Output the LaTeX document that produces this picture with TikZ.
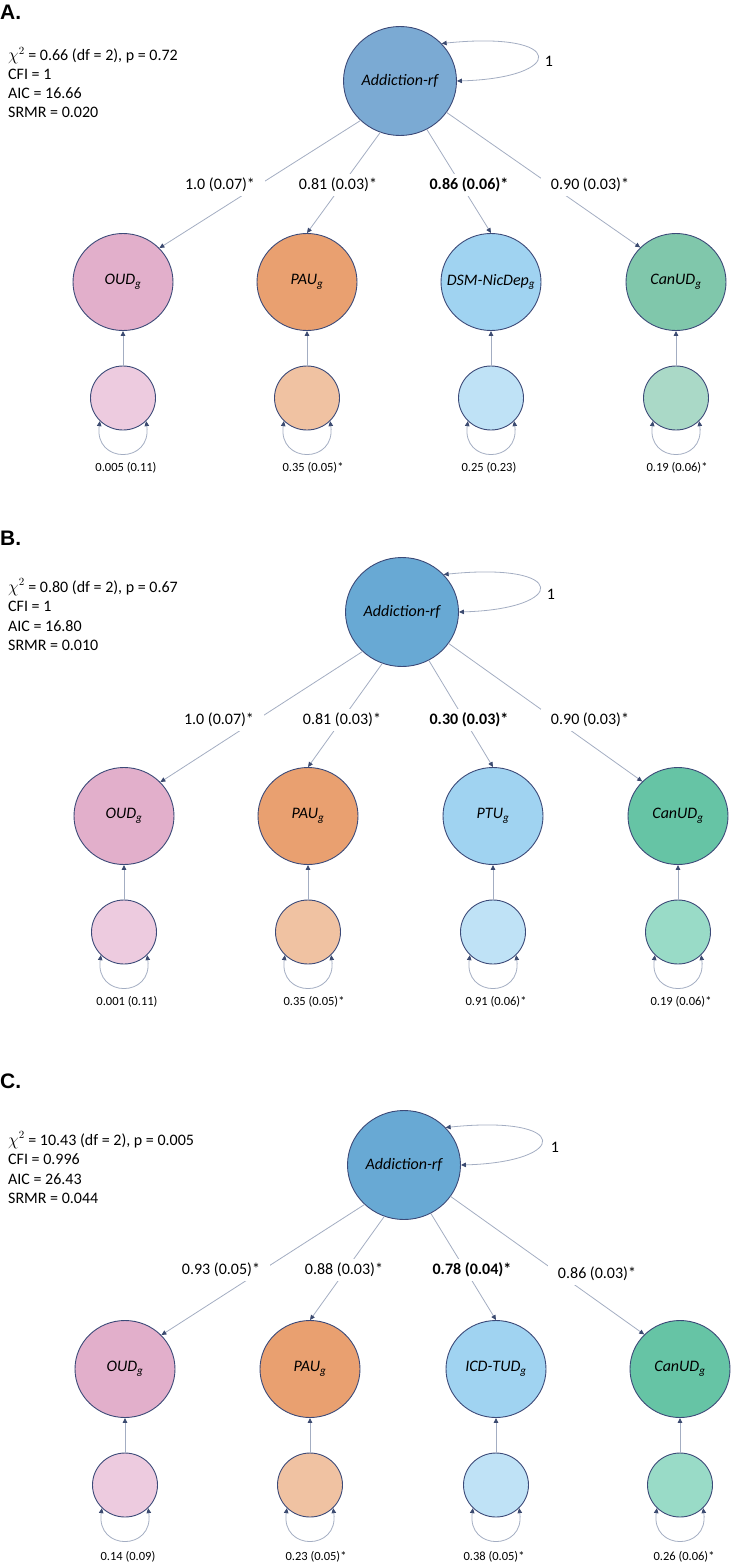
\documentclass[tikz,border=0pt]{standalone}
\usepackage{fontspec}
\setmainfont{Carlito}
\newfontfamily\labfont{Liberation Sans}
\usetikzlibrary{shapes.geometric,arrows.meta}
\newcommand\zb[1]{\makebox[0pt][c]{#1}}
\definecolor{edgec}{HTML}{A3ADC2}
\definecolor{tipc}{HTML}{3B4A70}
\definecolor{bordc}{HTML}{3C4A78}
\definecolor{addA}{HTML}{7BAAD3}
\definecolor{addB}{HTML}{68A9D4}
\definecolor{oudc}{HTML}{E2AFCB}
\definecolor{oudr}{HTML}{EDCBDF}
\definecolor{pauc}{HTML}{E9A070}
\definecolor{paur}{HTML}{F0C2A2}
\definecolor{nicc}{HTML}{A0D3F1}
\definecolor{nicr}{HTML}{BFE2F6}
\definecolor{canA}{HTML}{80C7AB}
\definecolor{canAr}{HTML}{AAD9C7}
\definecolor{canB}{HTML}{66C4A5}
\definecolor{canBr}{HTML}{99DBC7}
\tikzset{
  lat/.style={ellipse,draw=bordc,line width=0.9pt,inner sep=0pt,minimum width=113pt,minimum height=109pt,font=\fontsize{16}{19}\selectfont\itshape},
  obs/.style={ellipse,draw=bordc,line width=0.9pt,inner sep=0pt,minimum width=100pt,minimum height=97pt,font=\fontsize{16}{19}\selectfont\itshape},
  resid/.style={ellipse,draw=bordc,line width=0.9pt,inner sep=0pt,minimum width=65pt,minimum height=64pt},
  conn/.style={draw=edgec,line width=0.8pt,-{Triangle[length=5pt,width=4.5pt,color=tipc]}},
  dconn/.style={draw=edgec,line width=0.8pt,{Triangle[length=5pt,width=4.5pt,color=tipc]}-{Triangle[length=5pt,width=4.5pt,color=tipc]}},
  elab/.style={fill=white,inner xsep=10pt,inner ysep=4pt,font=\fontsize{16}{19}\selectfont},
  rlab/.style={inner sep=1pt,font=\fontsize{12.5}{15}\selectfont},
  stat/.style={anchor=west,inner sep=0pt,text height=11pt,text depth=3pt,font=\fontsize{16}{19}\selectfont},
  onelab/.style={inner sep=1pt,font=\fontsize{16}{19}\selectfont},
  plab/.style={anchor=west,inner sep=0pt,font=\labfont\bfseries\fontsize{21}{24}\selectfont},
}
\begin{document}
\begin{tikzpicture}[x=1pt,y=-1pt]
\useasboundingbox (0,0) rectangle (732,1563);

% ================= Panel A =================
\node[plab] (aLab) at (0,12) {A.};
\node[stat] (aS1) at (8,57) {$\chi^2$ = 0.66 (df = 2), p = 0.72};
\node[stat] (aS2) at (8,76) {CFI = 1};
\node[stat] (aS3) at (8,95) {AIC = 16.66};
\node[stat] (aS4) at (8,113) {SRMR = 0.020};

\node[lat,fill=addA] (aAdd) at (400,81) {\zb{Addiction-rf}};
\node[obs,fill=oudc] (aOUD) at (123,282) {\zb{OUD\textsubscript{g}}};
\node[obs,fill=pauc] (aPAU) at (307,282) {\zb{PAU\textsubscript{g}}};
\node[obs,fill=nicc] (aMID) at (491,282) {\zb{DSM-NicDep\textsubscript{g}}};
\node[obs,fill=canA] (aCAN) at (676,282) {\zb{CanUD\textsubscript{g}}};
\node[resid,fill=oudr] (aOUDr) at (123,398) {};
\node[resid,fill=paur] (aPAUr) at (307,398) {};
\node[resid,fill=nicr] (aMIDr) at (491,398) {};
\node[resid,fill=canAr] (aCANr) at (676,398) {};

\draw[dconn] (aAdd.42) .. controls +(126,-13) and +(109,-3) .. (aAdd.east);
\node[onelab] (aOne) at (549,61) {1};

\draw[conn] (aAdd.225) -- (aOUD.43);
\draw[conn] (aAdd.249) -- (aPAU.90);
\draw[conn] (aAdd.299) -- (aMID.90);
\draw[conn] (aAdd.326) -- (aCAN.136);

\node[elab] (aE1) at (220,185) {1.0 (0.07)*};
\node[elab] (aE2) at (338,185) {0.81 (0.03)*};
\node[elab] (aE3) at (469,185) {\bfseries 0.86 (0.06)*};
\node[elab] (aE4) at (590,185) {0.90 (0.03)*};

\foreach \n in {OUD,PAU,MID,CAN}{
  \draw[conn] (a\n r) -- (a\n);
  \draw[dconn] (a\n r.225) .. controls +(-6,43) and +(6,43) .. (a\n r.315);
}
\node[rlab] (aR1) at (126,468) {0.005 (0.11)};
\node[rlab] (aR2) at (313,468) {0.35 (0.05)*};
\node[rlab] (aR3) at (489,468) {0.25 (0.23)};
\node[rlab] (aR4) at (677,468) {0.19 (0.06)*};

% ================= Panel B =================
\node[plab] (bLab) at (0,538) {B.};
\node[stat] (bS1) at (8,588) {$\chi^2$ = 0.80 (df = 2), p = 0.67};
\node[stat] (bS2) at (8,607) {CFI = 1};
\node[stat] (bS3) at (8,627) {AIC = 16.80};
\node[stat] (bS4) at (8,646) {SRMR = 0.010};

\node[lat,fill=addB] (bAdd) at (402,612) {\zb{Addiction-rf}};
\node[obs,fill=oudc] (bOUD) at (124,816) {\zb{OUD\textsubscript{g}}};
\node[obs,fill=pauc] (bPAU) at (308,816) {\zb{PAU\textsubscript{g}}};
\node[obs,fill=nicc] (bMID) at (493,816) {\zb{PTU\textsubscript{g}}};
\node[obs,fill=canB] (bCAN) at (678,816) {\zb{CanUD\textsubscript{g}}};
\node[resid,fill=oudr] (bOUDr) at (124,932) {};
\node[resid,fill=paur] (bPAUr) at (308,932) {};
\node[resid,fill=nicr] (bMIDr) at (493,932) {};
\node[resid,fill=canBr] (bCANr) at (678,932) {};

\draw[dconn] (bAdd.42) .. controls +(126,-13) and +(109,-3) .. (bAdd.east);
\node[onelab] (bOne) at (551,594) {1};

\draw[conn] (bAdd.225) -- (bOUD.43);
\draw[conn] (bAdd.249) -- (bPAU.90);
\draw[conn] (bAdd.299) -- (bMID.90);
\draw[conn] (bAdd.326) -- (bCAN.136);

\node[elab] (bE1) at (219,720) {1.0 (0.07)*};
\node[elab] (bE2) at (342,720) {0.81 (0.03)*};
\node[elab] (bE3) at (469,720) {\bfseries 0.30 (0.03)*};
\node[elab] (bE4) at (590,720) {0.90 (0.03)*};

\foreach \n in {OUD,PAU,MID,CAN}{
  \draw[conn] (b\n r) -- (b\n);
  \draw[dconn] (b\n r.225) .. controls +(-6,43) and +(6,43) .. (b\n r.315);
}
\node[rlab] (bR1) at (127,1002) {0.001 (0.11)};
\node[rlab] (bR2) at (314,1002) {0.35 (0.05)*};
\node[rlab] (bR3) at (496,1002) {0.91 (0.06)*};
\node[rlab] (bR4) at (681,1002) {0.19 (0.06)*};

% ================= Panel C =================
\node[plab] (cLab) at (0,1081) {C.};
\node[stat] (cS1) at (8,1141) {$\chi^2$ = 10.43 (df = 2), p = 0.005};
\node[stat] (cS2) at (8,1160) {CFI = 0.996};
\node[stat] (cS3) at (8,1180) {AIC = 26.43};
\node[stat] (cS4) at (8,1199) {SRMR = 0.044};

\node[lat,fill=addB] (cAdd) at (404,1165) {\zb{Addiction-rf}};
\node[obs,fill=oudc] (cOUD) at (125,1369) {\zb{OUD\textsubscript{g}}};
\node[obs,fill=pauc] (cPAU) at (310,1369) {\zb{PAU\textsubscript{g}}};
\node[obs,fill=nicc] (cMID) at (496,1369) {\zb{ICD-TUD\textsubscript{g}}};
\node[obs,fill=canB] (cCAN) at (680,1369) {\zb{CanUD\textsubscript{g}}};
\node[resid,fill=oudr] (cOUDr) at (125,1485) {};
\node[resid,fill=paur] (cPAUr) at (310,1485) {};
\node[resid,fill=nicr] (cMIDr) at (496,1485) {};
\node[resid,fill=canBr] (cCANr) at (680,1485) {};

\draw[dconn] (cAdd.42) .. controls +(126,-13) and +(109,-3) .. (cAdd.east);
\node[onelab] (cOne) at (555,1147) {1};

\draw[conn] (cAdd.225) -- (cOUD.43);
\draw[conn] (cAdd.249) -- (cPAU.90);
\draw[conn] (cAdd.299) -- (cMID.90);
\draw[conn] (cAdd.326) -- (cCAN.136);

\node[elab] (cE1) at (221,1270) {0.93 (0.05)*};
\node[elab] (cE2) at (344,1270) {0.88 (0.03)*};
\node[elab] (cE3) at (472,1270) {\bfseries 0.78 (0.04)*};
\node[elab] (cE4) at (597,1274) {0.86 (0.03)*};

\foreach \n in {OUD,PAU,MID,CAN}{
  \draw[conn] (c\n r) -- (c\n);
  \draw[dconn] (c\n r.225) .. controls +(-6,43) and +(6,43) .. (c\n r.315);
}
\node[rlab] (cR1) at (128,1557) {0.14 (0.09)};
\node[rlab] (cR2) at (316,1557) {0.23 (0.05)*};
\node[rlab] (cR3) at (494,1557) {0.38 (0.05)*};
\node[rlab] (cR4) at (684,1557) {0.26 (0.06)*};
\end{tikzpicture}
\end{document}
